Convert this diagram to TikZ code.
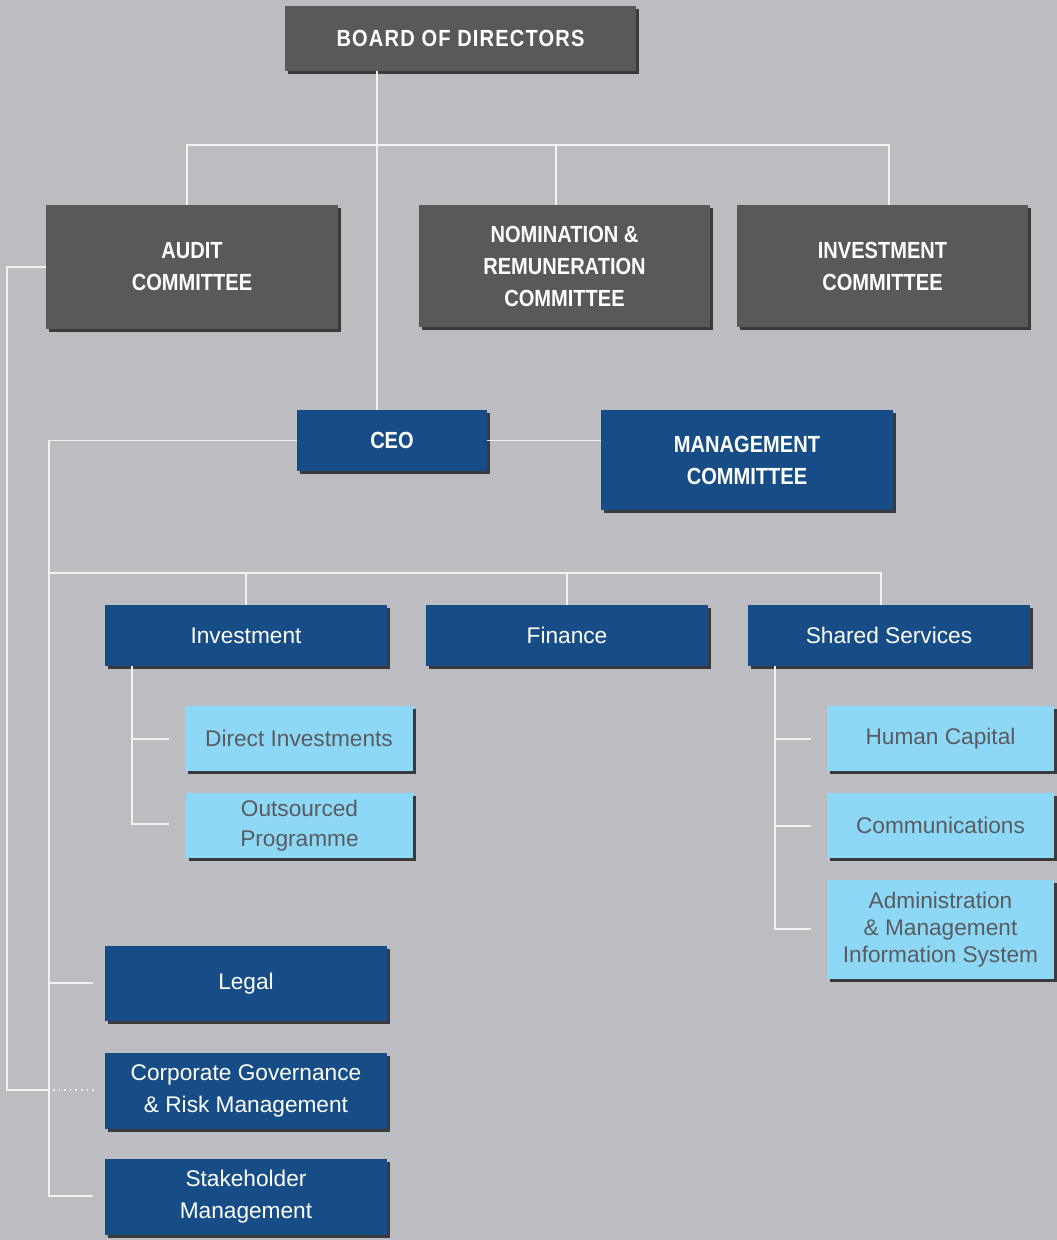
\documentclass[tikz,border=0pt]{standalone}
\usepackage{fontspec}
\setmainfont{Liberation Sans}
\newfontfamily\headfont{Liberation Sans}[FakeStretch=0.86]
\newfontfamily\boardfont{Liberation Sans}[FakeStretch=0.86,LetterSpace=5]
\usepackage{tikz}
\usetikzlibrary{shadows}

\definecolor{bggray}{RGB}{188,189,192}
\definecolor{boxgray}{RGB}{88,89,91}
\definecolor{boxblue}{RGB}{23,77,135}
\definecolor{boxlight}{RGB}{141,216,247}
\definecolor{textgray}{RGB}{90,91,94}
\definecolor{shadowgray}{RGB}{58,58,60}
\definecolor{linewhite}{RGB}{242,242,242}

\begin{document}
\begin{tikzpicture}[x=0.75pt, y=-0.75pt,
  card/.style={inner sep=0pt, align=center,
    drop shadow={shadow xshift=2.2pt, shadow yshift=-2.2pt, fill=shadowgray, opacity=1}},
  darkbox/.style={card, fill=boxgray, text=white,
    font=\headfont\bfseries\fontsize{17.5}{24}\selectfont},
  headblue/.style={card, fill=boxblue, text=white,
    font=\headfont\bfseries\fontsize{17.5}{24}\selectfont},
  bluebox/.style={card, fill=boxblue, text=white,
    font=\fontsize{17}{24}\selectfont},
  lightbox/.style={card, fill=boxlight, text=textgray,
    font=\fontsize{17}{22.5}\selectfont},
  link/.style={draw=linewhite, line width=1.1pt}]

\useasboundingbox (0,0) rectangle (1057,1240);
\fill [bggray] (0,0) rectangle (1057,1240);

% board and committees
\node [darkbox, minimum width=263.25pt, minimum height=48.75pt,
  font=\boardfont\bfseries\fontsize{17.5}{24}\selectfont] (board) at (460.5, 38.5) {BOARD OF DIRECTORS};
\node [darkbox, minimum width=219pt, minimum height=93pt] (audit) at (192, 267) {AUDIT\\COMMITTEE};
\node [darkbox, minimum width=218.25pt, minimum height=91.5pt] (nomination) at (564.5, 266) {NOMINATION \&\\REMUNERATION\\COMMITTEE};
\node [darkbox, minimum width=218.25pt, minimum height=91.5pt] (invcom) at (882.5, 266) {INVESTMENT\\COMMITTEE};

% ceo level
\node [headblue, minimum width=142.5pt, minimum height=45.75pt] (ceo) at (392, 440.5) {CEO};
\node [headblue, minimum width=219pt, minimum height=75pt] (mancom) at (747, 460) {MANAGEMENT\\COMMITTEE};

% divisions
\node [bluebox, minimum width=211.5pt, minimum height=45.75pt] (invest) at (246, 635.5) {Investment};
\node [bluebox, minimum width=211.5pt, minimum height=45.75pt] (finance) at (567, 635.5) {Finance};
\node [bluebox, minimum width=211.5pt, minimum height=45.75pt] (shared) at (889, 635.5) {Shared Services};

\node [lightbox, minimum width=171pt, minimum height=48.75pt] (direct) at (299, 738.5) {Direct Investments};
\node [lightbox, minimum width=170.25pt, minimum height=48.75pt] (outsourced) at (299.5, 825.5) {Outsourced\\Programme};

\node [lightbox, minimum width=170.25pt, minimum height=48.75pt] (human) at (940.5, 738.5) {Human Capital};
\node [lightbox, minimum width=170.25pt, minimum height=48.75pt] (comms) at (940.5, 825.5) {Communications};
\node [lightbox, minimum width=170.25pt, minimum height=74.25pt,
  font=\fontsize{17}{20.25}\selectfont] (admin) at (940.5, 929.5) {Administration\\\& Management\\Information System};

\node [bluebox, minimum width=211.5pt, minimum height=56.25pt] (legal) at (246, 983.5) {Legal};
\node [bluebox, minimum width=211.5pt, minimum height=57pt] (corpgov) at (246, 1091) {Corporate Governance\\\& Risk Management};
\node [bluebox, minimum width=211.5pt, minimum height=57pt] (stake) at (246, 1197) {Stakeholder\\Management};

% connector points
\coordinate (busA) at (377, 145);
\coordinate (dropA) at (187, 145);
\coordinate (dropN) at (556, 145);
\coordinate (dropI) at (889, 145);
\coordinate (spine) at (49, 442);
\coordinate (busB) at (49, 573);
\coordinate (dropS) at (881, 573);
\coordinate (subI) at (132, 739);
\coordinate (subS) at (775, 739);
\coordinate (auditline) at (7, 1090);

% board to committees
\draw [link] (busA |- board.south) -- (busA |- ceo.north);
\draw [link] (dropA |- audit.north) -- (dropA) -- (dropI) -- (dropI |- invcom.north);
\draw [link] (dropN) -- (dropN |- nomination.north);

% ceo
\draw [link] (ceo.east) -- (mancom.west |- ceo.east);
\draw [link] (ceo.west) -- (spine |- ceo.west) -- (49, 1196) -- (93, 1196);
\draw [link] (busB) -- (dropS) -- (dropS |- shared.north);
\draw [link] (invest.north |- busB) -- (invest.north);
\draw [link] (finance.north |- busB) -- (finance.north);
\draw [link] (49, 983) -- (93, 983);

% investment subtree
\draw [link] (subI |- invest.south) -- (132, 824) -- (169, 824);
\draw [link] (subI) -- (169, 739);

% shared services subtree
\draw [link] (subS |- shared.south) -- (775, 929) -- (811, 929);
\draw [link] (subS) -- (811, 739);
\draw [link] (775, 826) -- (811, 826);

% audit to corporate governance
\draw [link] (audit.west) -- (auditline |- audit.west) -- (auditline) -- (49, 1090);
\draw [link, line width=1pt, dash pattern=on 1.2pt off 3pt] (53, 1090) -- (95, 1090);

\end{tikzpicture}
\end{document}
